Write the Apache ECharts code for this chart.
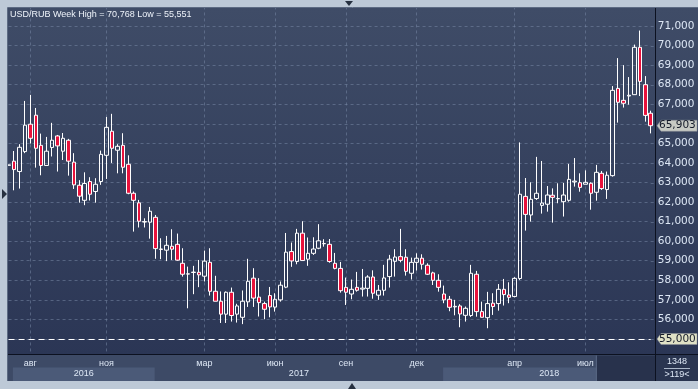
<!DOCTYPE html>
<html><head><meta charset="utf-8">
<script src="https://cdn.jsdelivr.net/npm/echarts@6/dist/echarts.min.js"></script>
<style>html,body{margin:0;padding:0;background:#bdc9d7;}#c{width:698px;height:389px;}</style>
</head><body><div id="c"></div>
<script>
// ---- data ----
const weeks = [];
(function () { const t0 = Date.UTC(2016, 5, 26); for (let i = 0; i < 119; i++) { weeks.push(new Date(t0 + i * 7 * 864e5).toISOString().slice(0, 10)); } })();

const opens = [63.88,64.09,63.56,64.58,65.98,66.44,64.90,63.87,64.79,65.38,
64.60,65.16,64.04,62.86,62.09,63.05,62.54,63.05,64.39,65.62,
64.65,64.90,63.93,62.45,61.96,60.98,60.97,61.22,59.60,59.54,
59.74,59.84,58.87,58.33,58.40,58.41,58.21,58.92,57.44,56.93,
56.27,57.39,56.27,56.11,56.90,58.11,57.14,56.81,57.22,56.63,
57.00,57.65,59.47,58.96,60.41,59.08,59.38,59.64,59.88,59.84,
58.87,58.61,57.64,57.30,57.64,57.55,57.59,58.17,57.24,57.49,
58.19,58.97,59.21,59.18,58.36,58.92,59.13,58.77,58.38,58.00,
57.30,57.03,56.64,56.69,56.21,56.20,58.31,56.40,56.09,56.83,
56.81,57.54,57.25,57.17,58.09,62.29,61.34,62.18,61.83,61.89,
62.35,62.18,62.02,62.09,63.03,62.99,62.91,62.96,62.50,63.47,
62.64,63.35,67.81,67.20,67.42,67.49,69.91,68.00,66.54];
const closes = [63.90,63.66,64.80,65.93,65.26,64.75,63.87,64.60,65.16,64.87,
65.26,64.09,62.88,62.30,62.95,62.40,62.91,64.44,65.82,64.75,
64.85,63.78,62.45,62.09,61.02,61.00,61.53,59.62,59.58,59.79,
59.59,59.03,58.31,58.32,58.42,58.28,58.98,57.44,56.93,56.27,
57.39,56.20,56.69,56.93,57.95,57.09,56.86,56.52,56.64,57.03,
57.75,59.44,58.99,60.41,59.01,59.38,59.60,60.02,59.87,58.96,
58.61,57.47,57.39,57.54,57.49,57.60,58.17,57.34,57.49,58.12,
59.08,59.19,59.02,58.46,58.92,59.13,58.82,58.31,58.00,57.64,
57.00,56.62,56.67,56.28,56.57,58.36,56.40,56.11,56.81,56.66,
57.54,57.27,57.13,58.10,62.40,61.37,62.14,62.45,61.95,62.36,
62.24,62.17,62.36,63.16,63.07,62.75,63.01,62.45,63.52,62.69,
63.37,67.71,67.10,67.05,67.46,69.91,68.17,66.43,65.903];
const lows = [63.88,62.60,62.69,64.50,64.99,63.76,63.37,63.87,64.33,63.56,
64.15,63.35,62.67,61.97,61.84,62.08,61.97,62.88,63.18,64.00,
63.47,63.47,62.40,60.49,60.70,60.70,60.13,59.10,59.08,58.98,
59.04,59.00,58.19,56.57,57.29,57.65,57.94,57.22,56.93,55.82,
55.82,55.89,55.84,55.76,56.64,56.64,56.15,56.01,56.11,56.40,
56.91,57.60,58.69,58.82,59.01,58.74,59.30,59.59,59.72,58.90,
58.56,57.37,56.74,57.03,57.42,57.17,57.17,57.06,57.00,57.22,
57.63,58.19,58.92,58.24,58.04,58.50,58.55,58.27,57.76,57.42,
56.83,56.42,56.21,55.60,55.89,56.13,56.14,56.11,55.551,56.23,
56.45,56.71,56.83,57.13,58.02,60.54,61.00,62.11,61.41,61.51,
60.95,61.94,61.26,62.02,62.79,62.53,62.91,61.61,62.07,62.62,
62.16,63.30,66.06,66.83,66.98,67.49,67.42,66.11,65.51];
const highs = [63.90,64.61,64.96,67.17,67.48,66.81,65.50,65.33,66.05,65.43,
65.53,65.23,64.50,63.12,63.52,63.27,63.22,64.63,66.35,66.51,
64.96,65.52,64.39,62.54,62.11,61.17,61.75,61.34,60.15,60.27,
60.61,60.39,59.64,58.70,58.74,59.04,59.52,59.64,58.23,57.43,
57.43,57.63,56.80,57.48,59.10,58.62,58.11,56.91,57.66,57.34,
57.94,60.42,59.93,60.63,61.02,60.19,60.20,60.87,60.10,60.11,
59.40,58.94,58.14,58.04,58.43,58.58,58.26,58.51,57.76,58.79,
59.30,59.59,60.63,59.59,59.16,59.38,59.33,58.87,58.44,58.31,
57.73,57.20,57.00,56.78,56.66,58.79,58.48,56.91,57.41,57.34,
57.81,58.07,57.90,58.16,65.05,63.23,63.01,64.31,64.10,62.82,
62.70,62.96,62.98,63.95,64.25,63.47,63.62,63.01,63.90,63.59,
63.56,67.93,69.36,69.00,68.39,70.05,70.768,68.44,66.67];

const monthTickWeeks = ['2016-07-24','2016-10-30','2017-03-05','2017-06-04','2017-09-03','2017-12-03','2018-04-08','2018-07-08'];
const monthTickNames = ['авг','ноя','мар','июн','сен','дек','апр','июл'];
const yearNames = ['2016','2017','2018'];
const yearFirstWeeks = ['2016-06-26','2017-01-01','2018-01-07'];
const yTicks = [55,56,57,58,59,60,61,62,63,64,65,66,67,68,69,70,71];
const titleText = 'USD/RUB Week High = 70,768 Low = 55,551';
const lastPrice = 65.903;
const levelPrice = 55.000;
const barCountText = '1348';
const visibleCountText = '>119<';

// ---- helpers ----
const fmt = v => v.toFixed(3).replace('.', ',');
const monthIdx = monthTickWeeks.map(w => weeks.indexOf(w));
const monthByWeek = {}; monthTickWeeks.forEach((w, i) => monthByWeek[w] = monthTickNames[i]);
const candleData = opens.map((o, i) => [o, closes[i], lows[i], highs[i]]);

const GRID = 'rgba(118,134,164,0.55)';
const FRAME = '#bdc9d7';
const LABEL = '#dde7f5';
const chart = echarts.init(document.getElementById('c'), null, { renderer: 'canvas', width: 698, height: 389 });

chart.setOption({
  animation: false,
  backgroundColor: FRAME,
  grid: { left: 8.56, right: 47.3, top: 6.44, bottom: 30.44, containLabel: false },
  xAxis: [
    { type: 'category', data: weeks, boundaryGap: false, axisLine: { show: false }, axisTick: { show: false },
      axisLabel: { show: false },
      splitLine: { show: true, interval: (i) => monthIdx.includes(i), lineStyle: { color: GRID, type: [3, 3], width: 1 } } },
    { type: 'category', data: weeks, boundaryGap: false, position: 'bottom', z: 200,
      axisLine: { show: false }, axisTick: { show: false }, splitLine: { show: false },
      axisLabel: { show: true, interval: (i) => monthIdx.includes(i), formatter: v => monthByWeek[v] || '',
        margin: 0, color: LABEL, fontSize: 9, fontFamily: 'Liberation Sans, Arial, sans-serif' } }
  ],
  yAxis: {
    type: 'value', position: 'right', min: 54, max: 72, interval: 1, scale: true,
    axisLine: { show: false }, axisTick: { show: false },
    splitLine: { show: true, lineStyle: { color: GRID, type: [3, 3], width: 1 } },
    axisLabel: { show: true, margin: 7, color: LABEL, fontSize: 10.5, fontFamily: 'DejaVu Sans, Verdana, sans-serif',
      formatter: v => (yTicks.includes(v) && Math.abs(v - lastPrice) > 0.6 && v !== levelPrice) ? fmt(v) : '' }
  },
  series: [{
    type: 'candlestick', xAxisIndex: 0, yAxisIndex: 0, data: candleData, barWidth: 4, clip: false,
    itemStyle: { color: 'rgba(0,0,0,0)', color0: '#e8123c', borderColor: '#ffffff', borderColor0: '#ffffff', borderColorDoji: '#ffffff', borderWidth: 1 },
    markLine: { silent: true, symbol: ['none', 'none'], label: { show: false },
      lineStyle: { color: '#ffffff', type: [6, 4], width: 1, opacity: 1 }, data: [{ yAxis: levelPrice }] }
  }]
});

// ---- decorations positioned through the chart's scales ----
const px = i => chart.convertToPixel({ xAxisIndex: 0 }, i);
const xAt = f => { const a = Math.floor(f); return px(a) + (f - a) * (px(a + 1) - px(a)); };
const py = v => chart.convertToPixel({ yAxisIndex: 0 }, v);
const AX = 655.5, PANEL_T = 354.5, PANEL_B = 381;

const g = [];
let id = 0;
const add = (o) => { o.id = 'g' + (id++); o.silent = true; g.push(o); };

add({ type: 'rect', z: -10, shape: { x: 8, y: 8, width: 690, height: 347 },
  style: { fill: new echarts.graphic.LinearGradient(0, 0, 0, 1, [{ offset: 0, color: '#3f4c67' }, { offset: 1, color: '#2b3655' }]) } });
// horizontal grid continuation up to the axis line
yTicks.forEach(v => { const y = Math.round(py(v)) + 0.5; add({ type: 'line', z: 0, shape: { x1: 650.7, y1: y, x2: AX, y2: y }, style: { stroke: GRID, lineWidth: 1, lineDash: [3, 3] } }); });
// frames
add({ type: 'rect', z: 100, shape: { x: 0, y: 0, width: 698, height: 8 }, style: { fill: FRAME } });
add({ type: 'rect', z: 100, shape: { x: 0, y: 0, width: 8, height: 389 }, style: { fill: FRAME } });
add({ type: 'rect', z: 100, shape: { x: 0, y: PANEL_B, width: 698, height: 8 }, style: { fill: FRAME } });
add({ type: 'line', z: 100, shape: { x1: 7.5, y1: 7.5, x2: 698, y2: 7.5 }, style: { stroke: '#5d6b83', lineWidth: 1 } });
add({ type: 'line', z: 100, shape: { x1: 7.5, y1: 7.5, x2: 7.5, y2: PANEL_B }, style: { stroke: '#5d6b83', lineWidth: 1 } });
// bottom panel
add({ type: 'rect', z: 100, shape: { x: 8, y: PANEL_T, width: 690, height: PANEL_B - PANEL_T }, style: { fill: '#3d4a66' } });
const yStartIdx = yearFirstWeeks.map(w => weeks.indexOf(w));
const b2016a = xAt(0.8), b2017 = xAt(yStartIdx[1] - 0.15), b2018 = xAt(yStartIdx[2] - 0.15);
add({ type: 'rect', z: 101, shape: { x: b2016a, y: 367.5, width: b2017 - b2016a, height: 13.5 }, style: { fill: '#4b5a78' } });
add({ type: 'rect', z: 101, shape: { x: b2018, y: 367.5, width: AX - b2018, height: 13.5 }, style: { fill: '#4b5a78' } });
const ovL = xAt(108.1);
add({ type: 'rect', z: 102, shape: { x: ovL, y: 355.5, width: AX - ovL, height: PANEL_B - 355.5 }, style: { fill: '#28324c' } });
add({ type: 'line', z: 102, shape: { x1: ovL - 0.5, y1: 355.5, x2: ovL - 0.5, y2: PANEL_B }, style: { stroke: '#5a6985', lineWidth: 1 } });
add({ type: 'rect', z: 102, shape: { x: AX, y: 355, width: 698 - AX, height: PANEL_B - 355 }, style: { fill: '#2a3550' } });
add({ type: 'line', z: 103, shape: { x1: 8, y1: PANEL_T, x2: 698, y2: PANEL_T }, style: { stroke: '#0c1120', lineWidth: 1 } });
add({ type: 'line', z: 103, shape: { x1: AX, y1: 8, x2: AX, y2: PANEL_B }, style: { stroke: '#0c1120', lineWidth: 1 } });
const yearCenters = [(b2016a + b2017) / 2, (b2017 + b2018) / 2, (b2018 + AX) / 2];
yearNames.forEach((y, i) => add({ type: 'text', z: 105, x: yearCenters[i], y: 374,
  style: { text: y, fill: LABEL, font: '9px "Liberation Sans", Arial, sans-serif', align: 'center', verticalAlign: 'middle' } }));
add({ type: 'text', z: 105, x: 677, y: 362, style: { text: barCountText, fill: LABEL, font: '9px "Liberation Sans", Arial, sans-serif', align: 'center', verticalAlign: 'middle' } });
add({ type: 'line', z: 105, shape: { x1: 664, y1: 368.5, x2: 690, y2: 368.5 }, style: { stroke: '#aab6c8', lineWidth: 1 } });
add({ type: 'text', z: 105, x: 677, y: 374.5, style: { text: visibleCountText, fill: LABEL, font: '9px "Liberation Sans", Arial, sans-serif', align: 'center', verticalAlign: 'middle' } });
// title
add({ type: 'text', z: 105, x: 10, y: 15, style: { text: titleText, fill: '#eef3fa', font: '9px "Liberation Sans", Arial, sans-serif', align: 'left', verticalAlign: 'middle' } });
// small triangles on frame
add({ type: 'polygon', z: 106, shape: { points: [[345, 1], [353, 1], [349, 6]] }, style: { fill: '#263040' } });
add({ type: 'polygon', z: 106, shape: { points: [[348, 389], [356, 389], [352, 383]] }, style: { fill: '#263040' } });
add({ type: 'polygon', z: 106, shape: { points: [[2, 189], [2, 199], [7, 194]] }, style: { fill: '#263040' } });
// price labels
function priceTag(v, fill) {
  const yc = py(v);
  add({ type: 'polygon', z: 104, shape: { points: [[657, yc], [661, yc - 5.5], [697, yc - 5.5], [697, yc + 5.5], [661, yc + 5.5]] },
    style: { fill: fill, stroke: '#8d9098', lineWidth: 0.5 } });
  add({ type: 'text', z: 105, x: 659, y: yc, style: { text: fmt(v), fill: '#151b2a', font: '10.5px "DejaVu Sans", Verdana, sans-serif', align: 'left', verticalAlign: 'middle' } });
}
priceTag(lastPrice, '#c7cac4');
priceTag(levelPrice, '#e0e1c6');

chart.setOption({ graphic: { elements: g } });
</script>
</body></html>
